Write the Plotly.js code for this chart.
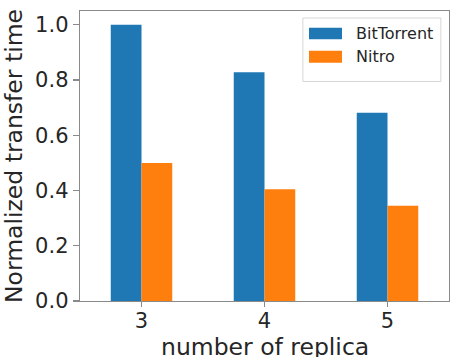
<!DOCTYPE html>
<html>
<head>
<meta charset="utf-8">
<script src="https://cdn.plot.ly/plotly-3.0.1.min.js"></script>
<style>
  html, body { margin: 0; padding: 0; background: #fff; }
  #chart { width: 460px; height: 357px; }
</style>
</head>
<body>
<div id="chart"></div>
<script>
// Normalized transfer time per replica count
const replicas = [3, 4, 5];
const bitTorrent = [1.0, 0.828, 0.682];
const nitro = [0.5, 0.405, 0.345];
const seriesNames = ['BitTorrent', 'Nitro'];
const seriesColors = ['#1f77b4', '#ff7f0e'];
const yTicks = [0, 0.2, 0.4, 0.6, 0.8, 1.0];

const font = 'DejaVu Sans, sans-serif';
const textColor = '#262626';
const spineColor = '#8a8a8a';

const traces = [bitTorrent, nitro].map((vals, i) => ({
  type: 'bar',
  name: seriesNames[i],
  x: replicas,
  y: vals,
  marker: { color: seriesColors[i], line: { width: 0 } },
  showlegend: false,
  hoverinfo: 'x+y+name'
}));

// Hand-built legend box in the upper right corner
const legendBox = { x0: 0.604, x1: 0.978, y0: 0.757, y1: 0.976 };
const swatchX = [0.6206, 0.710];
const swatchY = [[0.9023, 0.9424], [0.8215, 0.863]];
const labelY = [0.922, 0.842];

const shapes = [{
  type: 'rect', xref: 'paper', yref: 'paper',
  x0: legendBox.x0, x1: legendBox.x1, y0: legendBox.y0, y1: legendBox.y1,
  line: { color: '#d6d6d6', width: 1 }, fillcolor: 'rgba(255,255,255,0.8)'
}];
const annotations = [];
seriesNames.forEach((name, i) => {
  shapes.push({
    type: 'rect', xref: 'paper', yref: 'paper',
    x0: swatchX[0], x1: swatchX[1], y0: swatchY[i][0], y1: swatchY[i][1],
    line: { width: 0 }, fillcolor: seriesColors[i]
  });
  annotations.push({
    xref: 'paper', yref: 'paper', x: 0.7425, y: labelY[i],
    xanchor: 'left', yanchor: 'middle', showarrow: false,
    text: name, font: { family: font, size: 16, color: textColor }
  });
});

// x-axis title sits low, running off the bottom edge of the figure
annotations.push({
  xref: 'paper', yref: 'paper', x: 0.5, y: -0.104,
  xanchor: 'center', yanchor: 'top', showarrow: false,
  text: 'number of replica', font: { family: font, size: 23.5, color: textColor }
});

const layout = {
  width: 460, height: 357,
  margin: { l: 80, r: 11, t: 11, b: 56 },
  paper_bgcolor: '#fff', plot_bgcolor: '#fff',
  barmode: 'group', bargap: 0.5, bargroupgap: 0,
  showlegend: false,
  xaxis: {
    range: [2.5, 5.5], tickvals: replicas, ticktext: replicas.map(String),
    ticks: 'outside', ticklen: 5, tickwidth: 1.3, tickcolor: spineColor,
    ticklabelstandoff: -5,
    showline: true, linecolor: spineColor, linewidth: 1.3, mirror: true,
    showgrid: false, zeroline: false,
    tickfont: { family: font, size: 21, color: textColor }
  },
  yaxis: {
    range: [0, 1.05], tickvals: yTicks, tickformat: '.1f',
    ticks: 'outside', ticklen: 6, tickwidth: 1.3, tickcolor: spineColor,
    showline: true, linecolor: spineColor, linewidth: 1.3, mirror: true,
    showgrid: false, zeroline: false,
    tickfont: { family: font, size: 21, color: textColor },
    title: { text: 'Normalized transfer time', standoff: 12,
             font: { family: font, size: 23.5, color: textColor } }
  },
  shapes: shapes,
  annotations: annotations
};

Plotly.newPlot('chart', traces, layout, { displayModeBar: false, staticPlot: true });
</script>
</body>
</html>
